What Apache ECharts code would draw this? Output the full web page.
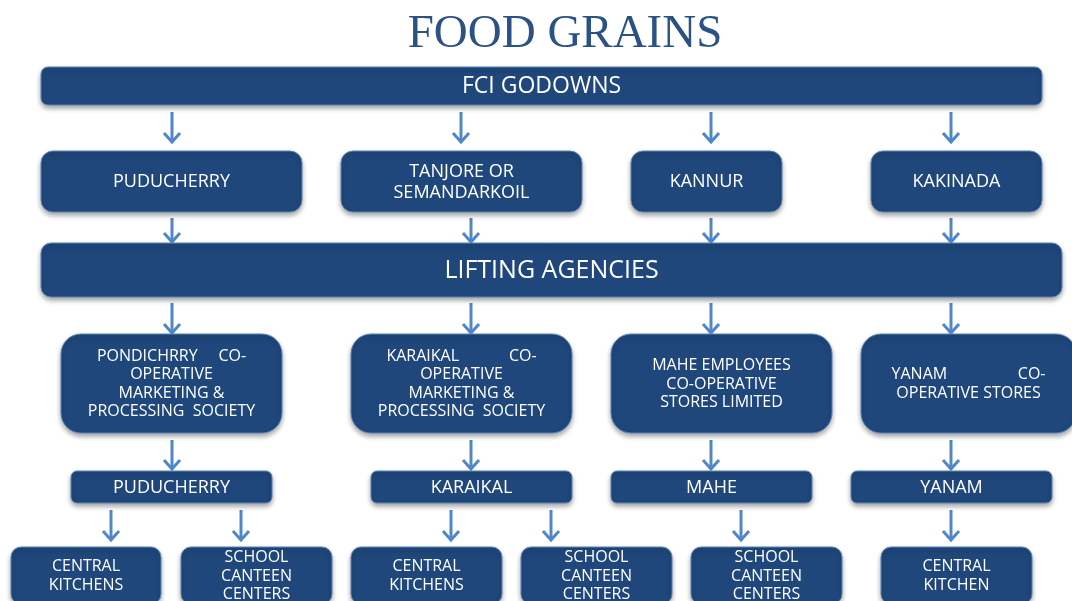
<!DOCTYPE html>
<html>
<head>
<meta charset="utf-8">
<script src="https://cdn.jsdelivr.net/npm/echarts@6/dist/echarts.min.js"></script>
<style>
html, body { margin: 0; padding: 0; background: #fff; }
#main { width: 1072px; height: 601px; }
</style>
</head>
<body>
<div id="main"></div>
<script>
// boxes of the flow: label + extent in diagram units (x 0..1072, y 0..601)
var nodeLabels = [
  'FCI GODOWNS',
  'PUDUCHERRY', 'TANJORE OR\nSEMANDARKOIL', 'KANNUR', 'KAKINADA',
  'LIFTING AGENCIES',
  'PONDICHRRY     CO-\nOPERATIVE\nMARKETING &\nPROCESSING  SOCIETY',
  'KARAIKAL            CO-\nOPERATIVE\nMARKETING &\nPROCESSING  SOCIETY',
  'MAHE EMPLOYEES\nCO-OPERATIVE\nSTORES LIMITED',
  'YANAM                 CO-\nOPERATIVE STORES',
  'PUDUCHERRY', 'KARAIKAL', 'MAHE', 'YANAM',
  'CENTRAL\nKITCHENS', 'SCHOOL\nCANTEEN\nCENTERS', 'CENTRAL\nKITCHENS',
  'SCHOOL\nCANTEEN\nCENTERS', 'SCHOOL\nCANTEEN\nCENTERS', 'CENTRAL\nKITCHEN'
];
var nodeLeft   = [41, 41, 341, 631, 871, 41, 61, 351, 611, 861, 71, 371, 611, 851, 11, 181, 351, 521, 691, 881];
var nodeRight  = [1042, 302, 582, 782, 1042, 1062, 282, 572, 832, 1076, 272, 572, 812, 1052, 161, 332, 502, 672, 842, 1032];
var nodeTop    = [67, 151, 151, 151, 151, 243, 334, 334, 334, 334, 471, 471, 471, 471, 547, 547, 547, 547, 547, 547];
var nodeBottom = [105, 212, 212, 212, 212, 297, 433, 433, 433, 433, 503, 503, 503, 503, 604, 604, 604, 604, 604, 604];
// which level each box sits on (0..5), used for styling
var nodeLevel  = [0, 1, 1, 1, 1, 2, 3, 3, 3, 3, 4, 4, 4, 4, 5, 5, 5, 5, 5, 5];

// connector arrows: x, start y, end y
var arrowX    = [172, 461, 711, 951, 172, 471, 711, 951, 172, 471, 711, 951, 172, 471, 711, 951, 111, 241, 451, 551, 741, 951];
var arrowFrom = [112, 112, 112, 112, 218, 218, 218, 218, 303, 303, 303, 303, 440, 440, 440, 440, 510, 510, 510, 510, 510, 510];
var arrowTo   = [142, 142, 142, 142, 242, 242, 242, 242, 333, 333, 333, 333, 469, 469, 469, 469, 540, 540, 540, 540, 540, 540];

var levelFont   = [23, 18, 25, 16, 18, 16];
var levelRadius = [7, 12, 10, 20, 6, 10];
var levelLine   = [24, 21, 30, 18.5, 21, 18.5];

var boxColor = '#1f477b';
var arrowColor = '#4f87c9';

var myChart = echarts.init(document.getElementById('main'));

var nodeData = [];
for (var i = 0; i < nodeLabels.length; i++) {
  nodeData.push([nodeLeft[i], nodeTop[i], nodeRight[i], nodeBottom[i], i]);
}
var arrowData = [];
for (var j = 0; j < arrowX.length; j++) {
  arrowData.push([arrowX[j], arrowFrom[j], arrowTo[j]]);
}

myChart.setOption({
  animation: false,
  title: {
    text: 'FOOD GRAINS',
    left: 560,
    top: 6,
    textAlign: 'center',
    textStyle: {
      fontFamily: 'Liberation Serif',
      fontWeight: 'normal',
      fontSize: 47,
      color: '#2b5286'
    }
  },
  grid: { left: 0, right: 0, top: 0, bottom: 0 },
  xAxis: { type: 'value', min: 0, max: 1072, show: false },
  yAxis: { type: 'value', min: 0, max: 601, inverse: true, show: false },
  series: [{
    type: 'custom',
    clip: false,
    data: arrowData,
    renderItem: function(params, api) {
      var top = api.coord([api.value(0), api.value(1)]);
      var end = api.coord([api.value(0), api.value(2)]);
      return {
        type: 'group',
        children: [{
          type: 'line',
          shape: { x1: top[0], y1: top[1], x2: end[0], y2: end[1] - 1 },
          style: { stroke: arrowColor, lineWidth: 3 }
        }, {
          type: 'polyline',
          shape: { points: [[end[0] - 8, end[1] - 9], [end[0], end[1]], [end[0] + 8, end[1] - 9]] },
          style: { stroke: arrowColor, lineWidth: 3, fill: null }
        }]
      };
    }
  }, {
    type: 'custom',
    clip: false,
    data: nodeData,
    renderItem: function(params, api) {
      var p0 = api.coord([api.value(0), api.value(1)]);
      var p1 = api.coord([api.value(2), api.value(3)]);
      var idx = api.value(4);
      var lv = nodeLevel[idx];
      return {
        type: 'group',
        children: [{
          type: 'rect',
          shape: { x: p0[0], y: p0[1], width: p1[0] - p0[0], height: p1[1] - p0[1], r: levelRadius[lv] },
          style: {
            fill: boxColor,
            stroke: '#5b84b8',
            lineWidth: 1,
            shadowBlur: 5,
            shadowOffsetY: 3,
            shadowColor: 'rgba(0,0,0,0.35)'
          }
        }, {
          type: 'text',
          style: {
            text: nodeLabels[idx],
            x: (p0[0] + p1[0]) / 2,
            y: (p0[1] + p1[1]) / 2 + 0.5,
            align: 'center',
            verticalAlign: 'middle',
            fill: '#ffffff',
            fontFamily: 'Open Sans',
            fontSize: levelFont[lv],
            lineHeight: levelLine[lv]
          }
        }]
      };
    }
  }]
});
</script>
</body>
</html>
